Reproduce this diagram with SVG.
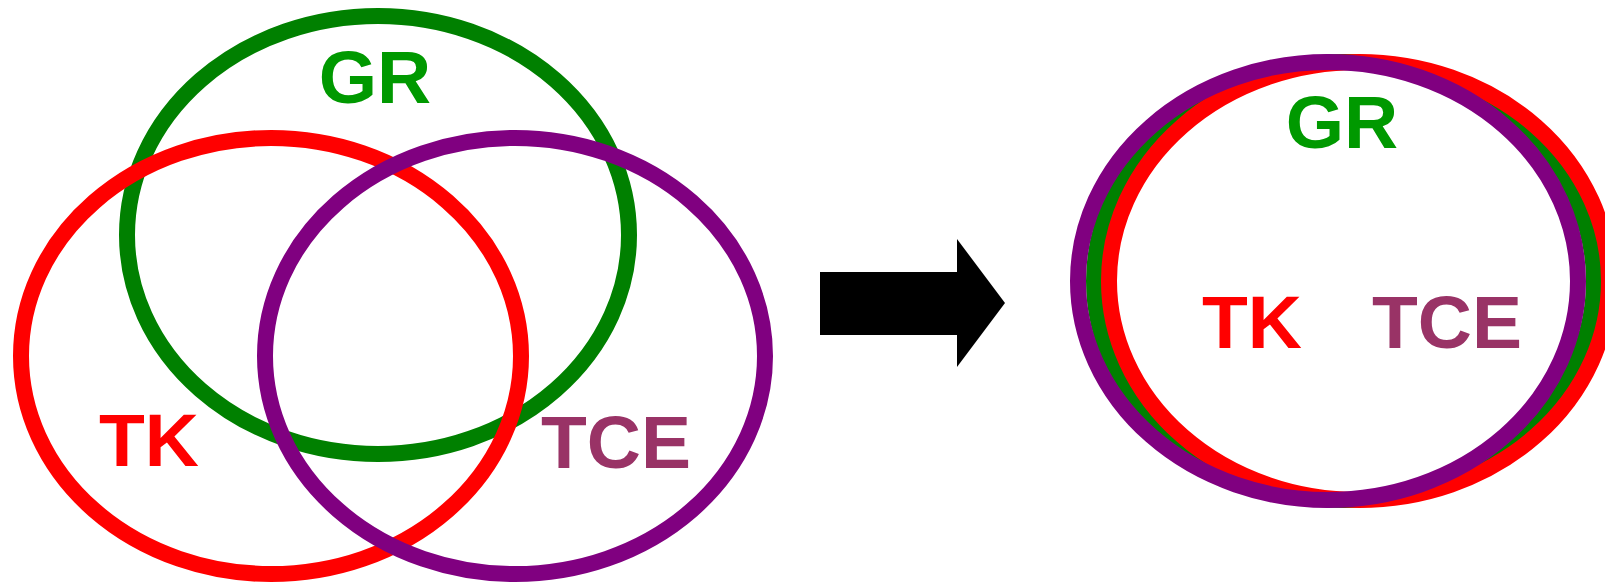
<svg xmlns="http://www.w3.org/2000/svg" width="1605" height="583" viewBox="0 0 1605 583">
<style>
.ring{fill:none;stroke-width:16}
.g{stroke:#008000}
.r{stroke:#FF0000}
.p{stroke:#800080}
.lbl{font-family:"Liberation Sans",Arial,sans-serif;font-weight:bold;font-size:75px;text-anchor:middle}
.tg{fill:#009900}
.tr{fill:#FF0000}
.tp{fill:#993366}
</style>
<rect width="1605" height="583" fill="#FFFFFF"/>
<g id="venn-left">
<g id="gr-left"><ellipse class="ring g" cx="378" cy="235" rx="251" ry="219"/></g>
<g id="tk-left"><ellipse class="ring r" cx="271" cy="356" rx="250" ry="218"/></g>
<g id="tce-left"><ellipse class="ring p" cx="515" cy="356" rx="250" ry="218"/></g>
<text class="lbl tg" x="375" y="103">GR</text>
<text class="lbl tr" x="149" y="466">TK</text>
<text class="lbl tp" x="616" y="468">TCE</text>
</g>
<g id="connectors">
<polygon fill="#000000" points="820,272 957,272 957,239 1005,303 957,367 957,335 820,335"/>
</g>
<g id="venn-right">
<g id="gr-right"><ellipse class="ring g" cx="1344" cy="281" rx="250" ry="219"/></g>
<g id="tk-right"><ellipse class="ring r" cx="1359" cy="281" rx="250" ry="219"/></g>
<g id="tce-right"><ellipse class="ring p" cx="1328" cy="281" rx="250" ry="219"/></g>
<text class="lbl tg" x="1342" y="148">GR</text>
<text class="lbl tr" x="1252" y="348">TK</text>
<text class="lbl tp" x="1447" y="348">TCE</text>
</g>
</svg>
